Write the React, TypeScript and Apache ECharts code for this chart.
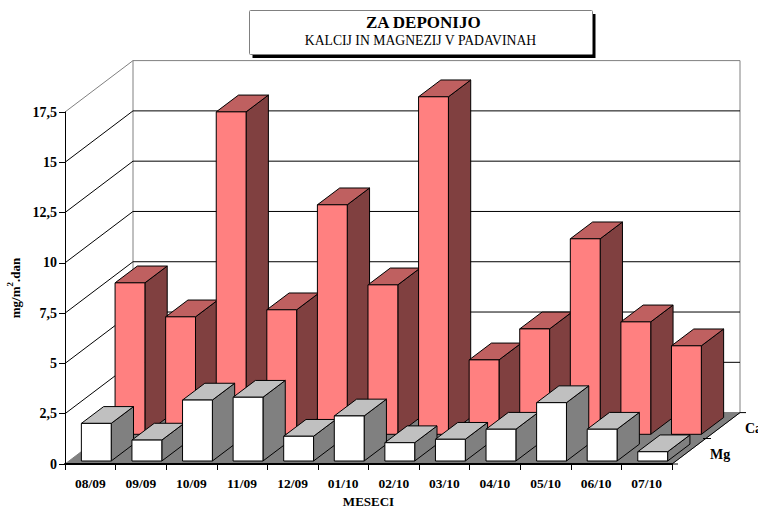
import React, { useEffect, useRef } from "react";
import * as echarts from "echarts";

const months = ["08/09", "09/09", "10/09", "11/09", "12/09", "01/10", "02/10", "03/10", "04/10", "05/10", "06/10", "07/10"];
const caValues = [7.53, 5.84, 16.03, 6.19, 11.41, 7.43, 16.78, 3.7, 5.24, 9.72, 5.59, 4.4];
const mgValues = [1.87, 1.04, 3.03, 3.17, 1.23, 2.24, 0.91, 1.08, 1.58, 2.9, 1.58, 0.46];
const gridTicks = [2.5, 5, 7.5, 10, 12.5, 15];
const depthNames = ["Ca", "Mg"];

const FONT = "'Liberation Serif', serif";
const WALL_DX = 68;
const WALL_DY = -51.4;
const BAR_DX = 22.3;
const BAR_DY = -16.8;
const BAR_W = 0.59;

function barSeries(name: string, values: number[], ox: number, oy: number, front: string, top: string, side: string) {
  return {
    type: "custom",
    name,
    z: 3,
    encode: { x: 0, y: 1 },
    data: values.map((v, i) => [i, v]),
    renderItem: (_: any, api: any) => {
      const i = api.value(0);
      const v = api.value(1);
      const base = api.coord([i, 0]);
      const head = api.coord([i, v]);
      const w = api.size([1, 0])[0] * BAR_W;
      const l = base[0] + ox - w / 2;
      const r = l + w;
      const b = base[1] + oy;
      const t = head[1] + oy;
      const stroke = { stroke: "#000", lineWidth: 1 };
      return {
        type: "group",
        children: [
          { type: "polygon", shape: { points: [[r, t], [r + BAR_DX, t + BAR_DY], [r + BAR_DX, b + BAR_DY], [r, b]] }, style: { fill: side, ...stroke } },
          { type: "polygon", shape: { points: [[l, t], [l + BAR_DX, t + BAR_DY], [r + BAR_DX, t + BAR_DY], [r, t]] }, style: { fill: top, ...stroke } },
          { type: "rect", shape: { x: l, y: t, width: w, height: b - t }, style: { fill: front, ...stroke } },
        ],
      };
    },
  };
}

export default function App() {
  const ref = useRef<HTMLDivElement>(null);
  useEffect(() => {
    document.body.style.margin = "0";
    const chart = echarts.init(ref.current!, undefined, { renderer: "svg" });
    chart.setOption({
      animation: false,
      backgroundColor: "#fff",
      title: [
        {
          text: "ZA DEPONIJO",
          left: 423.3,
          top: 14,
          padding: 0,
          textAlign: "center",
          textStyle: { fontFamily: FONT, fontSize: 17, fontWeight: "bold", color: "#000" },
          z: 10,
        },
        {
          text: "KALCIJ IN MAGNEZIJ V PADAVINAH",
          left: 420.5,
          top: 33,
          padding: 0,
          textAlign: "center",
          textStyle: { fontFamily: FONT, fontSize: 13.7, fontWeight: "normal", color: "#000" },
          z: 10,
        },
      ],
      graphic: [
        { type: "rect", z: 5, shape: { x: 252.5, y: 14, width: 343, height: 44 }, style: { fill: "#000" } },
        { type: "rect", z: 6, shape: { x: 249.5, y: 10.5, width: 343, height: 44, r: 1 }, style: { fill: "#fff", stroke: "#808080", lineWidth: 1 } },
        { type: "text", z: 6, x: 745, y: 428, style: { text: depthNames[0], fill: "#000", font: `bold 14px ${FONT}`, textVerticalAlign: "middle" } },
        { type: "text", z: 6, x: 710, y: 454, style: { text: depthNames[1], fill: "#000", font: `bold 14px ${FONT}`, textVerticalAlign: "middle" } },
      ],
      grid: { left: 65, top: 112, width: 607, height: 352, containLabel: false, outerBoundsMode: "none" },
      xAxis: {
        type: "category",
        data: months,
        name: "MESECI",
        nameLocation: "middle",
        nameGap: 31,
        nameTextStyle: { fontFamily: FONT, fontSize: 13, fontWeight: "bold", color: "#000" },
        axisLine: { lineStyle: { color: "#000", width: 2 } },
        axisTick: { show: true, alignWithLabel: false, length: 6, lineStyle: { color: "#000" } },
        axisLabel: { fontFamily: FONT, fontSize: 13.5, fontWeight: "bold", color: "#000", margin: 12, interval: 0 },
        splitLine: { show: false },
      },
      yAxis: {
        type: "value",
        min: 0,
        max: 17.5,
        interval: 2.5,
        name: "{a|mg/m}{b|2}{a|.dan}",
        nameLocation: "middle",
        nameRotate: 90,
        nameGap: 43,
        nameTextStyle: {
          fontFamily: FONT,
          fontSize: 13,
          fontWeight: "bold",
          color: "#000",
          rich: {
            a: { fontFamily: FONT, fontSize: 13, fontWeight: "bold", color: "#000", verticalAlign: "bottom", lineHeight: 16 },
            b: { fontFamily: FONT, fontSize: 9, fontWeight: "bold", color: "#000", verticalAlign: "top", lineHeight: 16 },
          },
        },
        axisLine: { show: true, lineStyle: { color: "#000", width: 1 } },
        axisTick: { show: true, length: 6, lineStyle: { color: "#000" } },
        axisLabel: {
          fontFamily: FONT,
          fontSize: 14,
          fontWeight: "bold",
          color: "#000",
          margin: 8,
          padding: [3, 0, 0, 0],
          formatter: (v: number) => String(v).replace(".", ","),
        },
        splitLine: { show: false },
      },
      series: [
        {
          type: "custom",
          name: "walls",
          z: -1,
          silent: true,
          encode: { x: 0, y: 1 },
          data: [[0, 0]],
          renderItem: (params: any, api: any) => {
            const cs = params.coordSys;
            const x0 = cs.x;
            const x1 = cs.x + cs.width;
            const y0 = api.coord([0, 0])[1];
            const yTop = api.coord([0, 17.5])[1];
            const bx0 = x0 + WALL_DX;
            const bx1 = x1 + WALL_DX;
            const dark = { stroke: "#000", lineWidth: 1 };
            const gray = { stroke: "#808080", lineWidth: 1 };
            const children: any[] = [
              { type: "polygon", shape: { points: [[x0, yTop], [bx0, yTop + WALL_DY], [bx0, y0 + WALL_DY], [x0, y0]] }, style: { fill: "#fff", stroke: "none" } },
              { type: "rect", shape: { x: bx0, y: yTop + WALL_DY, width: cs.width, height: y0 - yTop }, style: { fill: "#fff", ...gray } },
              { type: "polyline", shape: { points: [[x0, yTop], [bx0, yTop + WALL_DY]] }, style: { fill: "none", ...gray } },
            ];
            gridTicks.forEach((t) => {
              const y = api.coord([0, t])[1];
              children.push({
                type: "polyline",
                shape: { points: [[x0, y], [bx0, y + WALL_DY], [bx1, y + WALL_DY]] },
                style: { fill: "none", ...dark },
              });
            });
            children.push(
              { type: "polygon", shape: { points: [[x0, y0], [bx0, y0 + WALL_DY], [bx1, y0 + WALL_DY], [x1, y0]] }, style: { fill: "#808080", ...gray } },
              { type: "polyline", shape: { points: [[x1, y0], [bx1, y0 + WALL_DY]] }, style: { fill: "none", ...dark } },
              { type: "line", shape: { x1: x1, y1: y0, x2: x1 + 6, y2: y0 }, style: dark },
              { type: "line", shape: { x1: bx1, y1: y0 + WALL_DY, x2: bx1 + 6, y2: y0 + WALL_DY }, style: dark },
              { type: "line", shape: { x1: x1 + 31, y1: y0 - 25.5, x2: x1 + 39, y2: y0 - 25.5 }, style: dark },
            );
            return { type: "group", children };
          },
        },
        barSeries(depthNames[0], caValues, 39.7, -29.7, "#FF8080", "#BF6060", "#804040"),
        barSeries(depthNames[1], mgValues, 6, -3, "#FFFFFF", "#C0C0C0", "#808080"),
      ],
    });
    return () => chart.dispose();
  }, []);
  return <div ref={ref} style={{ width: 758, height: 508, position: "absolute", left: 0, top: 0 }} />;
}
